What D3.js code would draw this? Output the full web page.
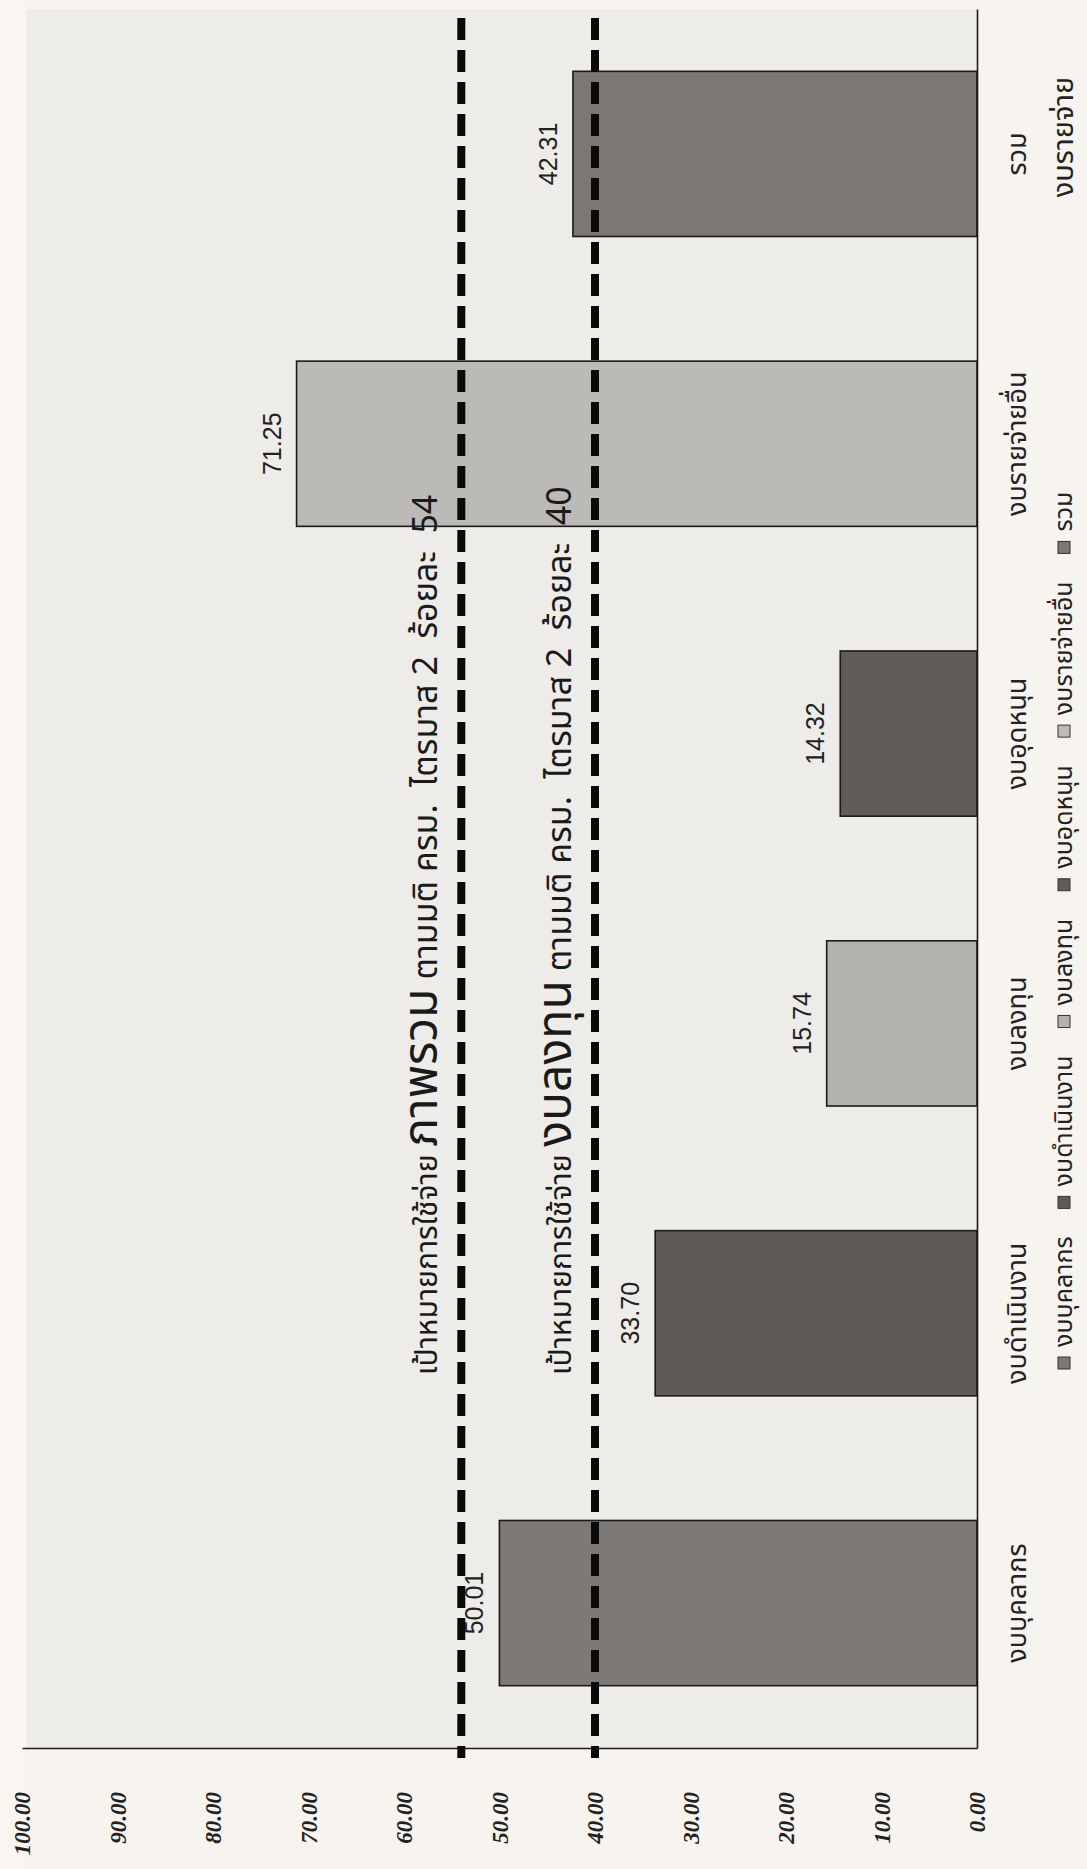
<!DOCTYPE html>
<html>
<head>
<meta charset="utf-8">
<script src="https://cdn.jsdelivr.net/npm/d3@7"></script>
<style>
  body { margin: 0; background: #f7f3ef; }
  svg { display: block; }
  .thai { font-family: 'Noto Sans Thai', 'Tahoma', 'Loma', 'Garuda', 'Noto Sans', sans-serif; }
</style>
</head>
<body>
<div id="chart"></div>
<script>
const categories = ['งบบุคลากร', 'งบดำเนินงาน', 'งบลงทุน', 'งบอุดหนุน', 'งบรายจ่ายอื่น', 'รวม'];
const values = [50.01, 33.70, 15.74, 14.32, 71.25, 42.31];
const tickValues = [0, 10, 20, 30, 40, 50, 60, 70, 80, 90, 100];
const targetValues = [54, 40];
const targetNames = ['ภาพรวม', 'งบลงทุน'];
const axisTitle = 'งบรายจ่าย';

const width = 1087, height = 1869;
const rows = categories.map((c, i) => ({ cat: c, value: values[i] }));

const svg = d3.select('#chart')
  .append('svg')
    .attr('width', width)
    .attr('height', height);

// plot frame (chart is drawn turned a quarter turn)
const plotLeft = 22, plotRight = 977, plotTop = 9, plotBottom = 1748;

const x = d3.scaleLinear()
  .domain([0, 100])
  .range([plotRight, plotLeft]);

const y = d3.scaleBand()
  .domain(categories.slice().reverse())
  .range([plotTop, plotBottom])
  .paddingInner(0.43)
  .paddingOuter(0.215);

const color = d3.scaleOrdinal()
  .domain(categories)
  .range(['#7d7977', '#5f5957', '#b4b2af', '#615b59', '#bbbab7', '#7b7775']);

svg.append('rect')
  .attr('x', 0).attr('y', 0)
  .attr('width', 26).attr('height', height)
  .attr('fill', '#fbf5f2');

svg.append('rect')
  .attr('x', plotLeft + 4).attr('y', plotTop)
  .attr('width', plotRight - plotLeft - 4).attr('height', plotBottom - plotTop)
  .attr('fill', '#edece8');

// bars
svg.selectAll('.bar')
  .data(rows)
  .enter().append('rect')
    .attr('class', 'bar')
    .attr('x', d => x(d.value))
    .attr('y', d => y(d.cat))
    .attr('width', d => x(0) - x(d.value))
    .attr('height', y.bandwidth())
    .attr('fill', d => color(d.cat))
    .attr('stroke', '#1c1a1a')
    .attr('stroke-width', 1.6);

// value labels
svg.selectAll('.val')
  .data(rows)
  .enter().append('text')
    .attr('class', 'val')
    .attr('transform', d => `translate(${x(d.value) - 25}, ${y(d.cat) + y.bandwidth() / 2}) rotate(-90)`)
    .attr('text-anchor', 'middle')
    .attr('dominant-baseline', 'central')
    .attr('font-family', "'Liberation Sans Narrow', 'Liberation Sans', sans-serif")
    .attr('font-size', 25)
    .attr('fill', '#222')
    .text(d => d.value.toFixed(2));

// value axis along the bottom
const xAxis = svg.append('g')
  .attr('transform', `translate(0, ${plotBottom})`)
  .call(d3.axisBottom(x).tickValues(tickValues).tickSize(0).tickFormat(d3.format('.2f')));

xAxis.select('.domain').attr('stroke', '#1c1a1a').attr('stroke-width', 1.6);
xAxis.selectAll('text')
  .attr('x', 0).attr('y', 0).attr('dy', null)
  .attr('transform', 'translate(0, 44) rotate(-90)')
  .attr('text-anchor', 'end')
  .attr('dominant-baseline', 'central')
  .attr('font-family', "'Liberation Serif', 'Times New Roman', serif")
  .attr('font-weight', 'bold')
  .attr('font-style', 'italic')
  .attr('font-size', 23)
  .attr('fill', '#222');

// category axis on the right
const yAxis = svg.append('g')
  .attr('transform', `translate(${plotRight}, 0)`)
  .call(d3.axisRight(y).tickSize(0).tickSizeOuter(0));

yAxis.select('.domain').attr('stroke', '#1c1a1a').attr('stroke-width', 1.6);
yAxis.selectAll('text')
  .attr('x', 0).attr('dy', null)
  .attr('class', 'thai')
  .attr('transform', 'translate(40, 0) rotate(-90)')
  .attr('text-anchor', 'middle')
  .attr('dominant-baseline', 'central')
  .attr('font-size', 27)
  .attr('fill', '#222');

svg.append('text')
  .attr('class', 'thai')
  .attr('transform', `translate(1064, 137) rotate(-90)`)
  .attr('text-anchor', 'middle')
  .attr('dominant-baseline', 'central')
  .attr('font-size', 29)
  .attr('fill', '#222')
  .text(axisTitle);

// target lines
targetValues.forEach((t, i) => {
  svg.append('line')
    .attr('x1', x(t)).attr('x2', x(t))
    .attr('y1', 18).attr('y2', plotBottom + 10)
    .attr('stroke', '#0a0a0a')
    .attr('stroke-width', 8)
    .attr('stroke-dasharray', '22,10');

  const label = svg.append('text')
    .attr('class', 'thai')
    .attr('xml:space', 'preserve')
    .attr('transform', `translate(${x(t) - 24}, 1375) rotate(-90)`)
    .attr('text-anchor', 'start')
    .attr('fill', '#1a1a1a')
    .attr('font-size', 30);
  label.append('tspan').text('เป้าหมายการใช้จ่าย ');
  label.append('tspan').attr('font-size', 48).text(targetNames[i]);
  label.append('tspan').attr('font-size', 34).text(' ตามมติ ครม.  ไตรมาส 2  ร้อยละ  ');
  label.append('tspan').attr('font-size', 34).text(t);
});

// legend, read bottom to top
const legend = svg.append('g');
let cursor = 1369;
categories.forEach(c => {
  legend.append('rect')
    .attr('x', 1058).attr('y', cursor - 12)
    .attr('width', 12).attr('height', 12)
    .attr('fill', color(c))
    .attr('stroke', '#333')
    .attr('stroke-width', 1);
  const t = legend.append('text')
    .attr('class', 'thai')
    .attr('transform', `translate(1064, ${cursor - 22}) rotate(-90)`)
    .attr('dominant-baseline', 'central')
    .attr('font-size', 25)
    .attr('fill', '#222')
    .text(c);
  cursor = cursor - 22 - t.node().getComputedTextLength() - 28;
});
</script>
</body>
</html>
